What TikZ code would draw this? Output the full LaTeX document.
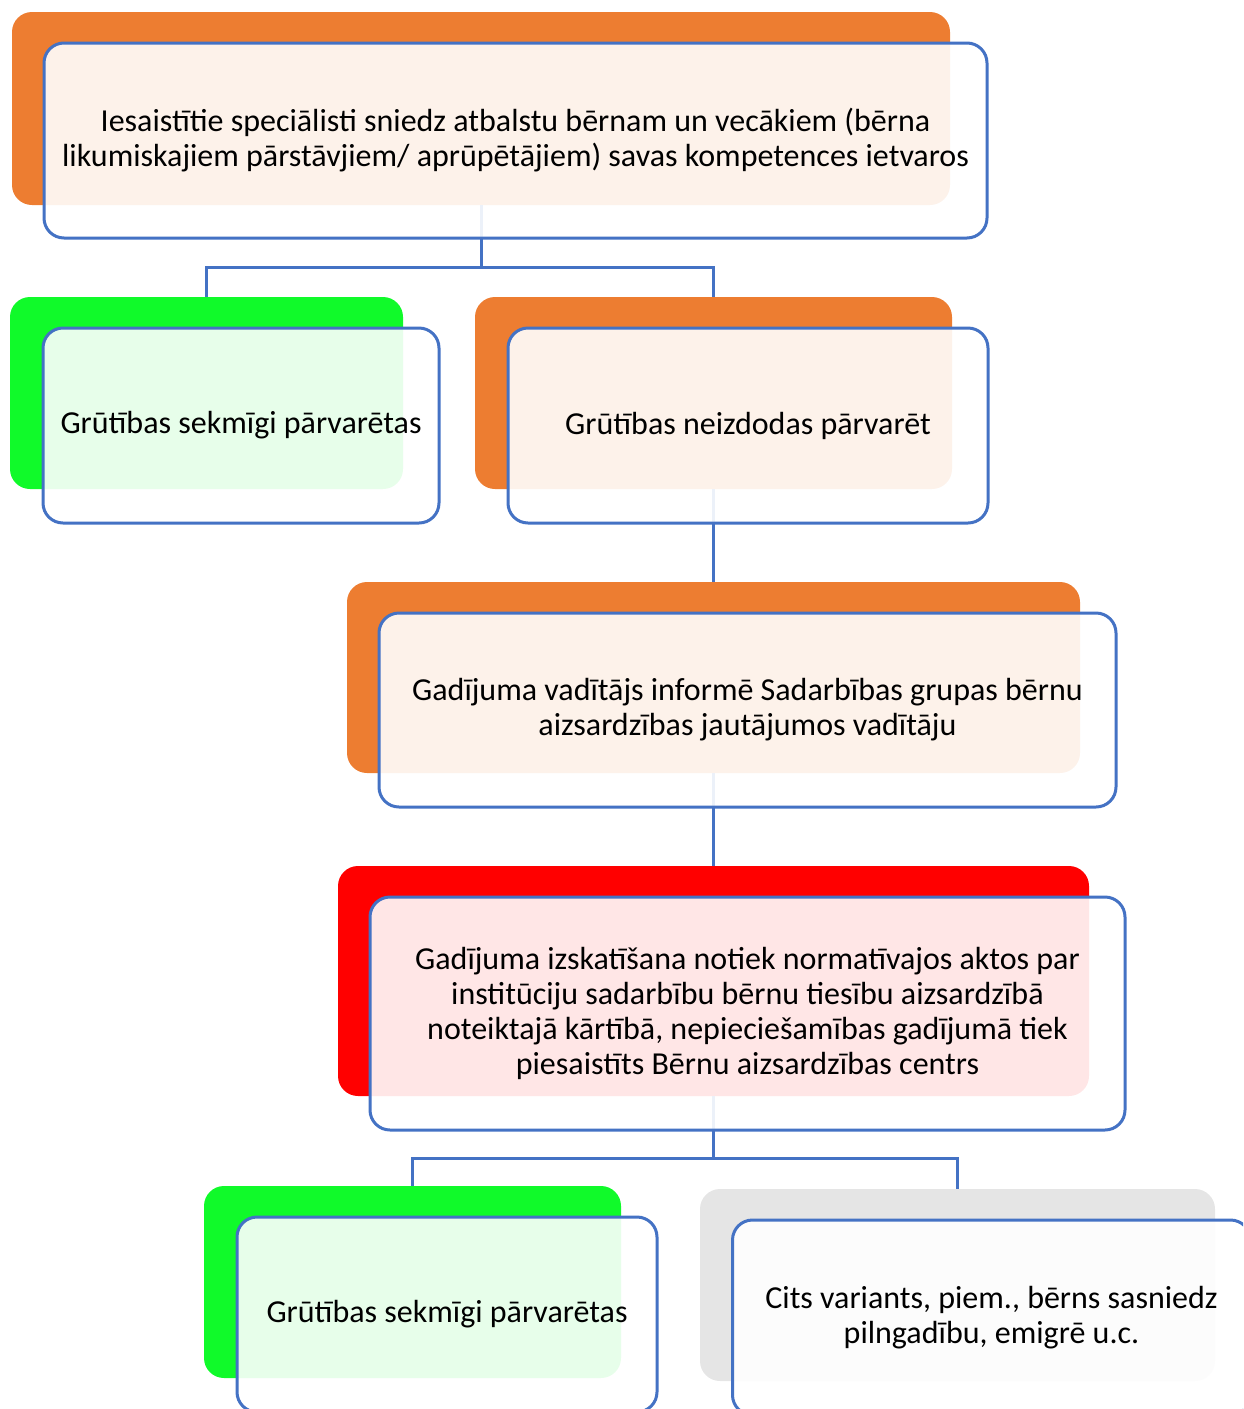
\documentclass[tikz,border=0pt]{standalone}
\usepackage{fontspec}
\setmainfont{Carlito}
\definecolor{boxorange}{HTML}{ED7D31}
\definecolor{boxgreen}{HTML}{10FA2A}
\definecolor{boxred}{HTML}{FF0000}
\definecolor{boxgray}{HTML}{E5E5E5}
\definecolor{lineblue}{HTML}{4472C4}
\tikzset{
  backbox/.style={rectangle, rounded corners=20pt, inner sep=0pt},
  frontbox/.style={rectangle, rounded corners=20pt, draw=lineblue, line width=3pt,
    fill=white, fill opacity=0.9, text opacity=1, align=center,
    font=\fontsize{32}{35}\selectfont},
  conn/.style={draw=lineblue, line width=3pt}
}
\begin{document}
\begin{tikzpicture}[x=1pt, y=-1pt]
\useasboundingbox (0,0) rectangle (1243,1409);
\clip (0,0) rectangle (1243,1409);
% back boxes
\node[backbox, fill=boxorange, minimum width=938pt, minimum height=193pt] (b1) at (481,108.5) {};
\node[backbox, fill=boxgreen, minimum width=393pt, minimum height=192pt] (b2) at (206.5,393) {};
\node[backbox, fill=boxorange, minimum width=477pt, minimum height=192pt] (b3) at (713.5,393) {};
\node[backbox, fill=boxorange, minimum width=733pt, minimum height=191pt] (b4) at (713.5,677.5) {};
\node[backbox, fill=boxred, minimum width=751pt, minimum height=230pt] (b5) at (713.5,981) {};
\node[backbox, fill=boxgreen, minimum width=417pt, minimum height=192pt] (b6) at (412.5,1282) {};
\node[backbox, fill=boxgray, minimum width=515pt, minimum height=192pt] (b7) at (957.5,1285) {};
% connectors
\draw[conn] (b1.south) -- ++(0,62) coordinate (j1) -| (b2.north);
\draw[conn] (j1) -| (b3.north);
\draw[conn] (b3.south) -- (b4.north);
\draw[conn] (b4.south) -- (b5.north);
\draw[conn] (b5.south) -- ++(0,62) coordinate (j2) -| (b6.north);
\draw[conn] (j2) -| (b7.north);
% front boxes
\node[frontbox, minimum width=943pt, minimum height=195pt] (f1) at (515.5,140.5)
  {Iesaistītie speciālisti sniedz atbalstu bērnam un vecākiem (bērna\\likumiskajiem pārstāvjiem/ aprūpētājiem) savas kompetences ietvaros};
\node[frontbox, minimum width=396pt, minimum height=195pt] (f2) at (241,425.5)
  {Grūtības sekmīgi pārvarētas};
\node[frontbox, minimum width=480pt, minimum height=195pt] (f3) at (748,425.5)
  {Grūtības neizdodas pārvarēt};
\node[frontbox, minimum width=737pt, minimum height=194pt] (f4) at (747.5,710)
  {Gadījuma vadītājs informē Sadarbības grupas bērnu\\aizsardzības jautājumos vadītāju};
\node[frontbox, minimum width=755pt, minimum height=233pt] (f5) at (747.5,1013.5)
  {Gadījuma izskatīšana notiek normatīvajos aktos par\\institūciju sadarbību bērnu tiesību aizsardzībā\\noteiktajā kārtībā, nepieciešamības gadījumā tiek\\piesaistīts Bērnu aizsardzības centrs};
\node[frontbox, minimum width=420pt, minimum height=195pt] (f6) at (447,1314.5)
  {Grūtības sekmīgi pārvarētas};
\node[frontbox, minimum width=518pt, minimum height=195pt] (f7) at (991.5,1317.5)
  {Cits variants, piem., bērns sasniedz\\pilngadību, emigrē u.c.};
\end{tikzpicture}
\end{document}
